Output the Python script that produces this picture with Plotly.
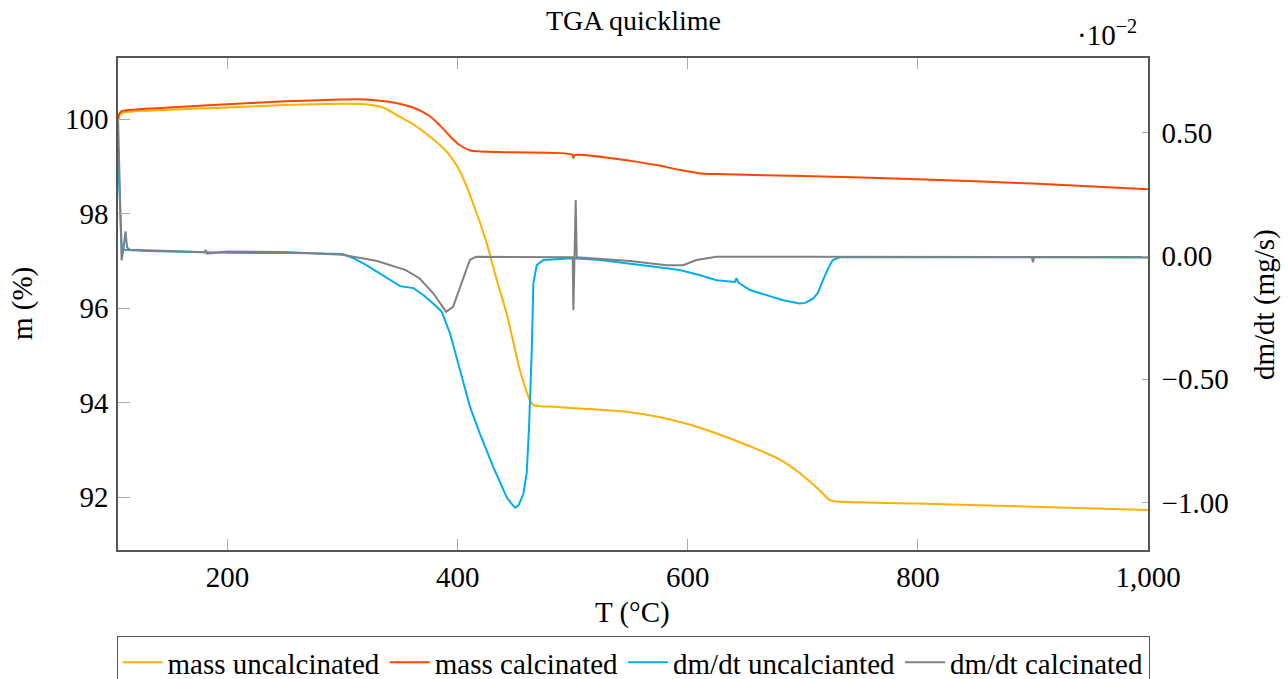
import plotly.graph_objects as go

# ---- data ----
T_mass_uncal = [104.8, 106, 108, 115, 150, 200, 250, 300, 320, 335, 350, 361, 375, 391, 402, 413, 425, 434,
                443, 454, 463, 466, 480, 506, 550, 575, 600, 625, 654, 680, 697, 715, 723.6, 730, 800, 900, 1000]
m_mass_uncal = [99.98, 100.08, 100.13, 100.16, 100.2, 100.25, 100.3, 100.33, 100.32, 100.25, 100.05, 99.9, 99.65,
                99.3, 98.9, 98.25, 97.4, 96.6, 95.85, 94.7, 94.05, 93.95, 93.92, 93.88, 93.8, 93.7, 93.55, 93.35,
                93.08, 92.8, 92.52, 92.14, 91.94, 91.91, 91.87, 91.8, 91.73]

T_mass_cal = [104.8, 106, 108, 115, 150, 200, 250, 300, 320, 340, 361, 375, 385, 395, 402, 411, 420, 448, 499.5,
              500.5, 501.5, 550, 575, 593, 610, 625, 700, 800, 900, 1000]
m_mass_cal = [99.98, 100.12, 100.17, 100.2, 100.25, 100.32, 100.38, 100.42, 100.42, 100.37, 100.25, 100.08, 99.86,
              99.6, 99.45, 99.34, 99.32, 99.3, 99.25, 99.18, 99.24, 99.12, 99.02, 98.93, 98.86, 98.84, 98.8, 98.73,
              98.64, 98.52]

T_dmdt_uncal = [104.9, 106.4, 107.9, 110, 130, 200, 260, 300, 310, 320, 332, 345, 350, 361.5, 370.2, 381.8, 386.2,
                393.4, 402.1, 410.8, 419.4, 431, 442.6, 446, 449.9, 453, 457.1, 460, 462, 463.5, 464.4, 465.8,
                468.7, 474.5, 500, 524, 550, 581.5, 593, 610, 625, 641, 642.3, 644, 654, 683, 697, 702, 709, 713,
                717.5, 722, 726, 732, 800, 900, 1000]
d_dmdt_uncal = [0.4, 0.2, 0.05, 0.025, 0.02, 0.013, 0.012, 0.008, -0.01, -0.035, -0.07, -0.11, -0.122, -0.13,
                -0.158, -0.206, -0.226, -0.314, -0.463, -0.613, -0.721, -0.856, -0.978, -1.0, -1.02, -1.01, -0.965,
                -0.88, -0.7, -0.52, -0.382, -0.112, -0.037, -0.016, -0.009, -0.016, -0.03, -0.05, -0.057, -0.077,
                -0.098, -0.105, -0.09, -0.108, -0.138, -0.179, -0.192, -0.19, -0.172, -0.15, -0.098, -0.05, -0.016,
                -0.005, -0.005, -0.004, -0.006]

T_dmdt_cal = [104.9, 106.4, 107.9, 109.6, 111.3, 112.7, 115.3, 150, 180, 181, 182, 200, 250, 300, 330, 355, 367,
              379, 390, 396, 403, 410.6, 416, 500, 500.6, 501.6, 502.6, 503.5, 550, 581.5, 596, 607.5, 625, 700,
              899, 900, 901, 1000]
d_dmdt_cal = [0.55, 0.3, -0.017, 0.03, 0.1, 0.035, 0.025, 0.02, 0.015, 0.025, 0.01, 0.018, 0.016, 0.005, -0.02,
              -0.057, -0.091, -0.152, -0.226, -0.206, -0.111, -0.016, -0.003, -0.005, -0.22, -0.005, 0.227, -0.005,
              -0.02, -0.037, -0.037, -0.016, -0.003, -0.003, -0.004, -0.025, -0.004, -0.004]

x_ticks = [200, 400, 600, 800, 1000]
x_ticklabels = ["200", "400", "600", "800", "1,000"]
yl_ticks = [92, 94, 96, 98, 100]
yr_ticks = [-1.0, -0.5, 0.0, 0.5]
yr_ticklabels = ["\u22121.00", "\u22120.50", "0.00", "0.50"]

FONT = "Liberation Serif"
FS = 29

fig = go.Figure()
fig.add_trace(go.Scatter(x=T_mass_uncal, y=m_mass_uncal, mode="lines", name="mass uncalcinated",
                         line=dict(color="#ffb000", width=2, shape="spline", smoothing=0.8), yaxis="y"))
fig.add_trace(go.Scatter(x=T_mass_cal, y=m_mass_cal, mode="lines", name="mass calcinated",
                         line=dict(color="#ff4500", width=2, shape="spline", smoothing=0.8), yaxis="y"))
fig.add_trace(go.Scatter(x=T_dmdt_uncal, y=d_dmdt_uncal, mode="lines", name="dm/dt uncalcianted",
                         line=dict(color="#00adef", width=2), yaxis="y2"))
fig.add_trace(go.Scatter(x=T_dmdt_cal, y=d_dmdt_cal, mode="lines", name="dm/dt calcinated",
                         line=dict(color="#808080", width=2), yaxis="y2"))

L, R, TOP, BOT = 118, 1148, 58, 550
W, H = 1288, 679
pw, ph = R - L, BOT - TOP


def px(x):
    return (x - L) / pw


def py(y):
    return (BOT - y) / ph


fig.update_layout(
    width=W, height=H,
    margin=dict(l=L, r=W - R, t=TOP, b=H - BOT, pad=0, autoexpand=False),
    paper_bgcolor="white", plot_bgcolor="white",
    font=dict(family=FONT, size=FS, color="black"),
    showlegend=True,
    legend=dict(orientation="h", x=0.5, xanchor="center", y=py(636), yanchor="top",
                bordercolor="#555555", borderwidth=1, font=dict(size=29),
                itemwidth=40, tracegroupgap=0),
    xaxis=dict(range=[104.8, 1000], tickvals=x_ticks, ticktext=x_ticklabels, ticks="inside", ticklen=11,
               tickcolor="#aaaaaa", showline=True, linecolor="#555555", linewidth=1.5, mirror="ticks",
               showgrid=False, zeroline=False, automargin=False),
    yaxis=dict(range=[90.885, 101.297], tickvals=yl_ticks, ticks="inside", ticklen=12, tickcolor="#aaaaaa",
               showline=True, linecolor="#555555", linewidth=1.5, showgrid=False, zeroline=False,
               ticklabelstandoff=2, automargin=False),
    yaxis2=dict(range=[-1.192, 0.803], tickvals=yr_ticks, ticktext=yr_ticklabels, overlaying="y", side="right",
                ticks="inside", ticklen=6, tickcolor="#aaaaaa", showline=True, linecolor="#555555",
                linewidth=1.5, showgrid=False, zeroline=False, ticklabelstandoff=6, automargin=False),
    annotations=[
        dict(text="TGA quicklime", xref="paper", yref="paper", x=px(633), y=py(20), showarrow=False,
             xanchor="center", yanchor="middle", font=dict(size=FS - 1)),
        dict(text="\u00b710<sup>\u22122</sup>", xref="paper", yref="paper", x=px(1107), y=py(33),
             showarrow=False, xanchor="center", yanchor="middle", font=dict(size=FS)),
        dict(text="T (\u00b0C)", xref="paper", yref="paper", x=px(632), y=py(612), showarrow=False,
             xanchor="center", yanchor="middle"),
        dict(text="m (%)", xref="paper", yref="paper", x=px(22), y=py(304), showarrow=False, textangle=-90,
             xanchor="center", yanchor="middle"),
        dict(text="dm/dt (mg/s)", xref="paper", yref="paper", x=px(1264), y=py(305), showarrow=False,
             textangle=-90, xanchor="center", yanchor="middle"),
    ],
)

fig.write_html("out.html")
